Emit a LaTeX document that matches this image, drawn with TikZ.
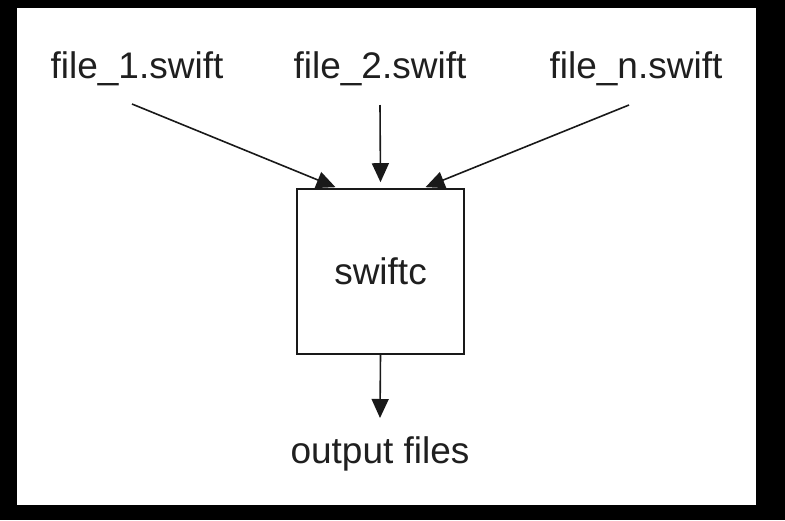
\documentclass[tikz,border=0pt]{standalone}
\usepackage{fontspec}
\setmainfont{Liberation Sans}
\usepackage{tikz}
\usetikzlibrary{arrows.meta}

\begin{document}
\begin{tikzpicture}[x=1pt, y=-1pt,
        label/.style={anchor=base, inner sep=0pt, text=black!88, font=\fontsize{37}{44}\selectfont},
        arr/.style={-{Triangle[length=19pt, width=17pt]}, line width=1.6pt, black!90}]
        % background
        \fill[black] (0, 0) rectangle (785, 520);
        \fill[white] (17, 8) rectangle (756, 505);

        \node[label] at (137, 78)   (f1) {file\_1.swift};
        \node[label] at (380, 78)   (f2) {file\_2.swift};
        \node[label] at (636, 78)   (fn) {file\_n.swift};
        \node[draw=black!90, line width=1.6pt, minimum width=167pt, minimum height=165pt, inner sep=0pt,
              text=black!88, font=\fontsize{37}{44}\selectfont] at (380.5, 271.5)   (swc) {swiftc};
        \node[label] at (380, 463)   (out) {output files};

        \draw [arr] ([xshift=-5pt, yshift=-26pt]f1.base) -- ([xshift=-45pt, yshift=1pt]swc.north);
        \draw [arr] ([yshift=-27pt]f2.base) -- ([yshift=6pt]swc.north);
        \draw [arr] ([xshift=-7pt, yshift=-27pt]fn.base) -- ([xshift=45pt, yshift=1pt]swc.north);
        \draw [arr] (swc.south) -- ([yshift=45pt]out.base);
    \end{tikzpicture}
\end{document}
